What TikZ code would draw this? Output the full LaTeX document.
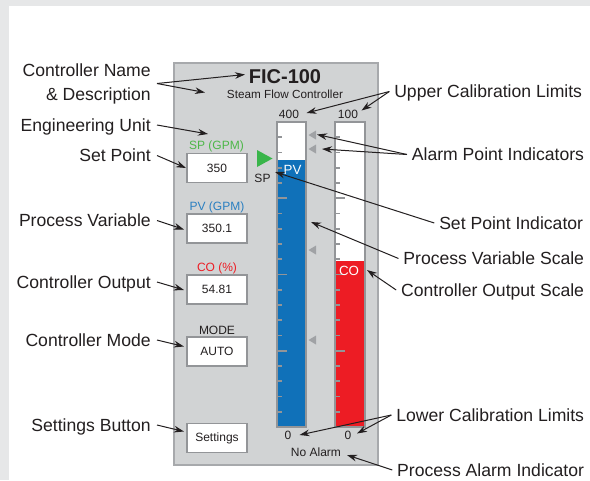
\documentclass[tikz,border=0pt]{standalone}
\usepackage{fontspec}
\setmainfont{Liberation Sans}
\usetikzlibrary{arrows.meta}
\definecolor{outerbg}{HTML}{E6E7E8}
\definecolor{panelbg}{HTML}{D1D3D4}
\definecolor{panelline}{HTML}{A7A9AC}
\definecolor{boxline}{HTML}{939598}
\definecolor{pvblue}{HTML}{1071B9}
\definecolor{pvtext}{HTML}{2A7FC1}
\definecolor{cored}{HTML}{ED1C24}
\definecolor{spgreen}{HTML}{39B54A}
\definecolor{sptext}{HTML}{4DB748}
\definecolor{alarmgray}{HTML}{A0A2A5}
\definecolor{ink}{HTML}{231F20}
\begin{document}
\begin{tikzpicture}[x=0.75pt,y=-0.75pt,
  lbl/.style={font=\fontsize{13.2}{13.5}\selectfont, text=ink, inner xsep=4.5pt, inner ysep=0pt, text height=9.5pt, text depth=0pt},
  rlbl/.style={lbl, inner xsep=3.5pt},
  small/.style={font=\fontsize{9}{11}\selectfont, text=ink, inner sep=0pt},
  valbox/.style={draw=boxline, line width=1.2pt, fill=white, minimum width=45pt, minimum height=22pt, inner sep=0pt, font=\fontsize{9}{11}\selectfont, text=ink},
  callout/.style={-{Stealth[length=7.5pt,width=5pt]}, line width=0.75pt, ink},
  tick/.style={boxline, line width=1.4pt},
  alarmtri/.style={fill=alarmgray},
]
% background
\fill[outerbg] (0,0) rectangle (590,480);
\fill[white] (9,6) rectangle (590,480);
\useasboundingbox (0,0) rectangle (590,480);

% panel
\draw[panelline, fill=panelbg, line width=1.2pt] (174,63) rectangle (378,465);

% title
\node[font=\fontsize{15}{17}\selectfont\bfseries, text=ink, inner sep=0pt] (fic) at (285,77) {FIC-100};
\node[font=\fontsize{8.8}{10}\selectfont, text=ink, inner sep=0pt] (desc) at (285,94.5) {Steam Flow Controller};

% value boxes with labels
\node[small, text=sptext] (splab) at (216.5,146) {SP (GPM)};
\node[valbox] (spbox) at (217,168) {350};
\node[small, text=pvtext] (pvlab) at (217,207) {PV (GPM)};
\node[valbox] (pvbox) at (217,228.5) {350.1};
\node[small, text=cored] (colab) at (217,268) {CO (\%)};
\node[valbox] (cobox) at (217,289.5) {54.81};
\node[small] (modelab) at (217,330) {MODE};
\node[valbox] (modebox) at (217,351.5) {AUTO};
\node[valbox] (setbox) at (217,438) {Settings};

% PV bar
\fill[white] (277,122) rectangle (306,160);
\fill[pvblue] (277,160) rectangle (306,427);
\foreach \k in {1,...,19}{
  \pgfmathsetmacro\tl{mod(\k,5)==0 ? 9.5 : 5}
  \draw[tick] (277,{122+15.25*\k}) -- ++(\tl,0);
}
\draw[boxline, line width=1.2pt] (277,122) rectangle (306,427);
\node[font=\fontsize{10}{12}\selectfont, text=white, inner sep=0pt] (pvtag) at (292.5,169.5) {PV};

% CO bar
\fill[white] (335,122) rectangle (365,261);
\fill[cored] (335,261) rectangle (365,427);
\foreach \k in {1,...,19}{
  \pgfmathsetmacro\tl{mod(\k,5)==0 ? 9.5 : 5}
  \draw[tick] (335,{122+15.25*\k}) -- ++(\tl,0);
}
\draw[boxline, line width=1.2pt] (335,122) rectangle (365,427);
\node[font=\fontsize{10}{12}\selectfont, text=white, inner sep=0pt] (cotag) at (349,271) {CO};

% alarm triangles
\foreach \yy in {135,149,250,340}{
  \fill[alarmtri] (308.5,\yy) -- (316,{\yy-4.5}) -- (316,{\yy+4.5}) -- cycle;
}
% set point indicator
\fill[spgreen] (257,150) -- (272.5,158.5) -- (257,167) -- cycle;
\node[small] (sptag) at (262.5,178) {SP};

% scale limits
\node[small] (hi400) at (289,114.5) {400};
\node[small] (hi100) at (348,114.5) {100};
\node[small] (lo0a) at (288,435) {0};
\node[small] (lo0b) at (348,435) {0};
\node[small] (noalarm) at (316,452.5) {No Alarm};

% left labels
\node[font=\fontsize{13.2}{18}\selectfont, text=ink, align=right, anchor=east, inner xsep=4.5pt, inner ysep=0pt] (lname) at (157,83.5) {Controller Name\\\& Description};
\node[lbl, anchor=east] (leng) at (157,125) {Engineering Unit};
\node[lbl, anchor=east] (lsp) at (157,155.5) {Set Point};
\node[lbl, anchor=east] (lpv) at (157,220.5) {Process Variable};
\node[lbl, anchor=east] (lco) at (157,282) {Controller Output};
\node[lbl, anchor=east] (lmode) at (157,340) {Controller Mode};
\node[lbl, anchor=east] (lset) at (157,425) {Settings Button};

% right labels
\node[rlbl, anchor=east] (rup) at (587,91.5) {Upper Calibration Limits};
\node[rlbl, anchor=east] (ral) at (589,154.5) {Alarm Point Indicators};
\node[rlbl, anchor=east] (rspi) at (588,223) {Set Point Indicator};
\node[rlbl, anchor=east] (rpvs) at (589,258.5) {Process Variable Scale};
\node[rlbl, anchor=east] (rcos) at (589,290) {Controller Output Scale};
\node[rlbl, anchor=east] (rlo) at (589,415) {Lower Calibration Limits};
\node[rlbl, anchor=east] (ralarm) at (589,470) {Process Alarm Indicator};

% arrow tips
\coordinate (tfic) at (245,74.5);
\coordinate (tdesc) at (205,92.5);
\coordinate (teng) at (208,134);
\coordinate (tsp) at (186,168);
\coordinate (tpv) at (184,229.5);
\coordinate (tco) at (184,290);
\coordinate (tmode) at (184,346.5);
\coordinate (tset) at (184,431.5);
\coordinate (t400) at (306.5,113);
\coordinate (t100) at (361.5,110.5);
\coordinate (tal1) at (317,134.5);
\coordinate (tal2) at (322,149);
\coordinate (tspi) at (275,172);
\coordinate (tpvs) at (311,222);
\coordinate (tcos) at (367,270);
\coordinate (tlo1) at (299.5,435);
\coordinate (tlo2) at (357,433.5);
\coordinate (talarm) at (347,455);

% callouts
\draw[callout] (lname.east) -- (tfic);
\draw[callout] (lname.east) -- (tdesc);
\draw[callout] (leng.east) -- (teng);
\draw[callout] (lsp.east) -- (tsp);
\draw[callout] (lpv.east) -- (tpv);
\draw[callout] (lco.east) -- (tco);
\draw[callout] (lmode.east) -- (tmode);
\draw[callout] (lset.east) -- (tset);
\draw[callout] (rup.west) -- (t400);
\draw[callout] (rup.west) -- (t100);
\draw[callout] (ral.west) -- (tal1);
\draw[callout] (ral.west) -- (tal2);
\draw[callout] (rspi.west) -- (tspi);
\draw[callout] (rpvs.west) -- (tpvs);
\draw[callout] (rcos.west) -- (tcos);
\draw[callout] (rlo.west) -- (tlo1);
\draw[callout] (rlo.west) -- (tlo2);
\draw[callout] (ralarm.west) -- (talarm);
\end{tikzpicture}
\end{document}
